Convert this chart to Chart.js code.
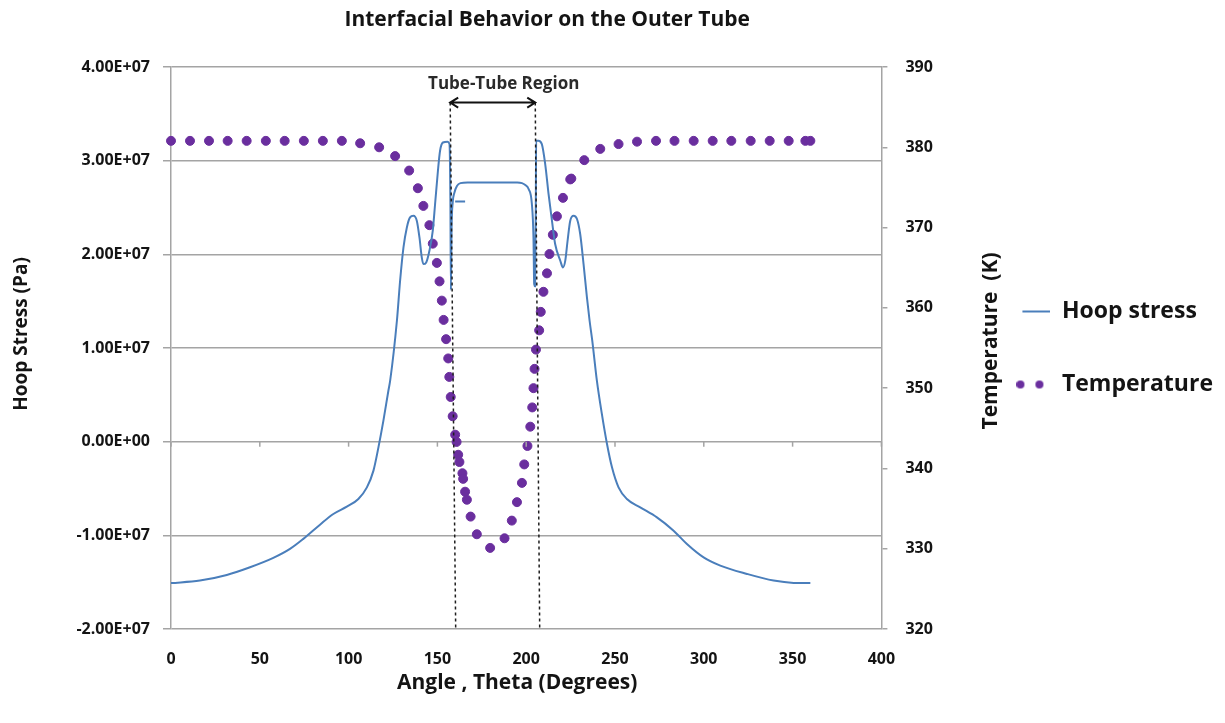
<!DOCTYPE html>
<html>
<head>
<meta charset="utf-8">
<title>Interfacial Behavior on the Outer Tube</title>
<script src="https://cdn.jsdelivr.net/npm/chart.js@4.4.1/dist/chart.umd.min.js"></script>
<style>
  html, body { margin: 0; padding: 0; background: #ffffff; }
</style>
</head>
<body>
<canvas id="graficoTubo" width="1225" height="723"></canvas>
<script>
// DATOS
const chartTitle = 'Interfacial Behavior on the Outer Tube';
const xTitle = 'Angle , Theta (Degrees)';
const stressTitle = 'Hoop Stress (Pa)';
const tempTitle = 'Temperature  (K)';
const regionLabel = 'Tube-Tube Region';

const xTicks = [0, 50, 100, 150, 200, 250, 300, 350, 400];
const stressTicks = [-2e7, -1e7, 0, 1e7, 2e7, 3e7, 4e7];
const tempTicks = [320, 330, 340, 350, 360, 370, 380, 390];

// hoop stress (Pa) vs angle (deg)
const hoopAngle = [
  0, 16.3, 31.4, 44.5, 57.6, 67.0, 74.5, 83.9, 91.4, 99.0, 105.5, 110.3, 114.0, 116.8, 119.6, 122.4, 123.4,
  127.2, 129.0, 130.9, 132.8, 134.6, 136.5, 138.4, 139.9, 141.2, 142.1, 143.7, 145.5, 147.4, 148.7, 150.3,
  151.5, 153.1, 155.7, 156.8, 157.3, 157.6, 158.0, 158.6, 159.6, 161.0, 163.0, 167.0, 180, 195, 197.6,
  199.5, 201.3, 203.2, 204.1, 204.5, 205.0, 205.4, 205.6, 206.9, 208.8, 210.7, 212.6, 214.5, 216.3, 219.2,
  220.7, 222.0, 223.3, 224.8, 226.7, 228.6, 230.4, 232.3, 234.2, 235.7, 237.2, 239.8, 242.6, 245.5, 248.3,
  252.0, 256.7, 264.2, 273.6, 283.0, 290.5, 299.9, 309.3, 324.3, 339.3, 350.6, 360
];
const hoopStress = [
  -1.51e7, -1.483e7, -1.423e7, -1.341e7, -1.241e7, -1.145e7, -1.038e7, -0.886e7, -0.772e7, -0.694e7, -0.612e7,
  -0.488e7, -0.309e7, -0.061e7, 0.224e7, 0.544e7, 0.651e7,
  1.291e7, 1.718e7, 2.074e7, 2.287e7, 2.394e7, 2.412e7, 2.359e7, 2.18e7, 1.967e7, 1.896e7, 1.914e7, 2.038e7,
  2.252e7, 2.537e7, 2.892e7, 3.106e7, 3.194e7, 3.202e7, 3.177e7, 2.6e7, 1.62e7, 2.3e7, 2.55e7, 2.66e7, 2.73e7,
  2.76e7, 2.767e7, 2.767e7, 2.767e7, 2.76e7,
  2.74e7, 2.70e7, 2.537e7, 2.18e7, 1.683e7, 1.66e7, 2.5e7, 3.212e7, 3.212e7, 3.177e7, 2.964e7, 2.644e7,
  2.359e7, 2.11e7, 1.932e7, 1.86e7, 1.932e7, 2.145e7, 2.359e7, 2.412e7, 2.377e7, 2.217e7, 1.896e7, 1.54e7,
  1.291e7, 1.078e7, 0.651e7, 0.296e7, -0.025e7, -0.274e7,
  -0.488e7, -0.612e7, -0.701e7, -0.808e7, -0.95e7, -1.092e7, -1.235e7, -1.323e7, -1.412e7, -1.483e7, -1.508e7, -1.51e7
];

// short stray segment inside the tube-tube region
const stubAngle = [160.0, 165.6];
const stubStress = [2.565e7, 2.565e7];

// temperature (K) vs angle (deg)
const tempAngle = [
  0, 10.7, 21.4, 31.9, 42.6, 53.4, 64.0, 74.8, 85.5, 96.2, 106.5, 117.2, 126.2, 134.1, 139.0, 142.1, 145.5,
  147.4, 149.7, 151.2, 152.5, 153.5, 154.9, 156.1, 156.7, 157.5, 158.6, 160.0, 160.8, 161.7, 162.4, 164.1,
  164.5, 165.6, 166.6, 168.7, 172.2, 179.7, 187.8, 191.9, 194.8, 197.6, 198.9, 200.7, 202.3, 203.4, 204.1,
  204.7, 205.5, 207.3, 208.2, 209.7, 211.7, 213.1, 215.0, 217.3, 220.7, 224.8, 225.4, 232.7, 241.7, 252.0,
  262.4, 273.1, 283.5, 294.3, 305.0, 315.5, 326.4, 337.1, 347.8, 357.2, 360
];
const tempK = [
  380.8, 380.8, 380.8, 380.8, 380.8, 380.8, 380.8, 380.8, 380.8, 380.8, 380.5, 380.0, 378.9, 377.1, 374.9,
  372.7, 370.3, 368.0, 365.6, 363.3, 360.9, 358.5, 356.1, 353.7, 351.4, 348.9, 346.5, 344.2, 343.3, 341.7,
  340.8, 339.4, 338.7, 337.1, 336.1, 334.0, 331.8, 330.1, 331.3, 333.5, 335.8, 338.2, 340.5, 342.8, 345.2,
  347.6, 350.0, 352.4, 354.8, 357.2, 359.5, 362.0, 364.3, 366.7, 369.1, 371.4, 373.7, 376.0, 376.1, 378.4,
  379.8, 380.4, 380.7, 380.8, 380.8, 380.8, 380.8, 380.8, 380.8, 380.8, 380.8, 380.8, 380.8
];

// tube-tube region markers (angle at top / bottom of the dashed lines)
const regionTopAngle = [157.2, 205.1];
const regionBottomAngle = [160.3, 207.6];
const regionTop = 3.62e7;
const regionLabelLevel = 3.82e7;

// ESTILO
const fontFamily = "'Open Sans', sans-serif";
const textColor = '#141414';
const gridColor = '#a4a4a4';
const hoopColor = '#4a7ebb';
const tempColor = '#6a2e9e';

function sci(v) {
  const parts = v.toExponential(2).split('e');
  const e = Number(parts[1]);
  return parts[0] + 'E' + (e < 0 ? '-' : '+') + String(Math.abs(e)).padStart(2, '0');
}

function icon(draw) {
  const c = document.createElement('canvas');
  c.width = 34;
  c.height = 12;
  draw(c.getContext('2d'));
  return c;
}

const hoopIcon = icon(function (g) {
  g.strokeStyle = hoopColor;
  g.lineWidth = 2;
  g.beginPath();
  g.moveTo(6, 6);
  g.lineTo(34, 6);
  g.stroke();
});

const tempIcon = icon(function (g) {
  g.fillStyle = tempColor;
  [4, 23].forEach(function (cx) {
    g.beginPath();
    g.arc(cx, 6, 4, 0, Math.PI * 2);
    g.fill();
  });
});

function vText(ctx, text, x, y) {
  ctx.save();
  ctx.translate(x, y);
  ctx.rotate(-Math.PI / 2);
  ctx.fillText(text, 0, 0);
  ctx.restore();
}

const extras = {
  id: 'extras',
  afterDraw(chart) {
    const { ctx, chartArea: area, scales: { x, y } } = chart;
    ctx.save();

    // tick marks on the zero line (horizontal axis crosses at 0)
    const y0 = y.getPixelForValue(0);
    ctx.strokeStyle = gridColor;
    ctx.lineWidth = 1.5;
    xTicks.forEach(function (v) {
      const px = x.getPixelForValue(v);
      ctx.beginPath();
      ctx.moveTo(px, y0);
      ctx.lineTo(px, y0 + 5);
      ctx.stroke();
    });

    // dashed region bounds
    ctx.strokeStyle = '#1e1e1e';
    ctx.lineWidth = 1.5;
    ctx.setLineDash([3, 3]);
    for (let i = 0; i < 2; i++) {
      ctx.beginPath();
      ctx.moveTo(x.getPixelForValue(regionTopAngle[i]), y.getPixelForValue(regionTop));
      ctx.lineTo(x.getPixelForValue(regionBottomAngle[i]), area.bottom);
      ctx.stroke();
    }
    ctx.setLineDash([]);

    // double arrow
    const xa = x.getPixelForValue(regionTopAngle[0]);
    const xb = x.getPixelForValue(regionTopAngle[1]);
    const ya = y.getPixelForValue(regionTop);
    ctx.strokeStyle = '#111';
    ctx.lineWidth = 2;
    ctx.beginPath();
    ctx.moveTo(xa, ya);
    ctx.lineTo(xb, ya);
    ctx.moveTo(xa + 8, ya - 5);
    ctx.lineTo(xa, ya);
    ctx.lineTo(xa + 8, ya + 5);
    ctx.moveTo(xb - 8, ya - 5);
    ctx.lineTo(xb, ya);
    ctx.lineTo(xb - 8, ya + 5);
    ctx.stroke();

    ctx.fillStyle = '#2a2a2a';
    ctx.textAlign = 'center';
    ctx.textBaseline = 'middle';
    ctx.font = 'bold 17px ' + fontFamily;
    ctx.fillText(regionLabel, (xa + xb) / 2 + 11, y.getPixelForValue(regionLabelLevel));

    // chart title
    ctx.fillStyle = textColor;
    ctx.font = 'bold 21px ' + fontFamily;
    ctx.fillText(chartTitle, (area.left + area.right) / 2 + 21, 20);

    // axis titles
    ctx.font = 'bold 21px ' + fontFamily;
    ctx.fillText(xTitle, (area.left + area.right) / 2 - 9, 683);
    ctx.font = 'bold 19px ' + fontFamily;
    vText(ctx, stressTitle, 22, (area.top + area.bottom) / 2 - 14);
    ctx.font = 'bold 21px ' + fontFamily;
    vText(ctx, tempTitle, 991, (area.top + area.bottom) / 2 - 7);

    ctx.restore();
  }
};

const tubo = document.getElementById('graficoTubo');

new Chart(tubo, {
  type: 'line',
  data: {
    datasets: [{
      label: 'Hoop stress',
      data: hoopAngle.map(function (a, i) { return { x: a, y: hoopStress[i] }; }),
      yAxisID: 'y',
      borderColor: hoopColor,
      backgroundColor: hoopColor,
      borderWidth: 2,
      pointRadius: 0,
      cubicInterpolationMode: 'monotone'
    }, {
      label: 'stub',
      data: stubAngle.map(function (a, i) { return { x: a, y: stubStress[i] }; }),
      yAxisID: 'y',
      borderColor: hoopColor,
      borderWidth: 2,
      pointRadius: 0
    }, {
      label: 'Temperature',
      data: tempAngle.map(function (a, i) { return { x: a, y: tempK[i] }; }),
      yAxisID: 'yT',
      showLine: false,
      pointRadius: 4.5,
      pointBackgroundColor: tempColor,
      pointBorderColor: tempColor,
      borderColor: tempColor,
      backgroundColor: tempColor,
      clip: false
    }]
  },
  options: {
    responsive: false,
    animation: false,
    events: [],
    layout: {
      padding: { left: 11, right: 2, top: 67, bottom: 10 }
    },
    scales: {
      x: {
        type: 'linear',
        min: 0,
        max: 400,
        afterBuildTicks: function (axis) { axis.ticks = xTicks.map(function (v) { return { value: v }; }); },
        afterFit: function (axis) { axis.height = 84; },
        grid: { display: false, drawTicks: false },
        border: { display: false },
        ticks: {
          padding: 21,
          color: textColor,
          font: { family: fontFamily, size: 16, weight: 'bold' }
        }
      },
      y: {
        position: 'left',
        min: -2e7,
        max: 4e7,
        afterBuildTicks: function (axis) { axis.ticks = stressTicks.map(function (v) { return { value: v }; }); },
        afterFit: function (axis) { axis.width = 160; },
        grid: { color: gridColor, lineWidth: 1.5, tickLength: 8 },
        border: { color: gridColor, width: 1.5 },
        ticks: {
          padding: 13,
          color: textColor,
          font: { family: fontFamily, size: 16, weight: 'bold' },
          callback: function (v) { return sci(v); }
        }
      },
      yT: {
        position: 'right',
        min: 320,
        max: 390,
        afterBuildTicks: function (axis) { axis.ticks = tempTicks.map(function (v) { return { value: v }; }); },
        afterFit: function (axis) { axis.width = 85; },
        grid: { drawOnChartArea: false, color: gridColor, lineWidth: 1.5, tickLength: 6 },
        border: { color: gridColor, width: 1.5 },
        ticks: {
          padding: 18,
          color: textColor,
          font: { family: fontFamily, size: 16, weight: 'bold' }
        }
      }
    },
    plugins: {
      title: { display: false },
      tooltip: { enabled: false },
      legend: {
        position: 'right',
        fullSize: false,
        maxWidth: 400,
        labels: {
          usePointStyle: true,
          pointStyleWidth: 34,
          padding: 50,
          color: textColor,
          font: { family: fontFamily, size: 23, weight: 'bold' },
          filter: function (item) { return item.text !== 'stub'; },
          generateLabels: function (chart) {
            const items = Chart.defaults.plugins.legend.labels.generateLabels(chart);
            items.forEach(function (it) {
              it.pointStyle = it.text === 'Temperature' ? tempIcon : hoopIcon;
            });
            return items;
          }
        }
      }
    }
  },
  plugins: [extras]
});
</script>
</body>
</html>
